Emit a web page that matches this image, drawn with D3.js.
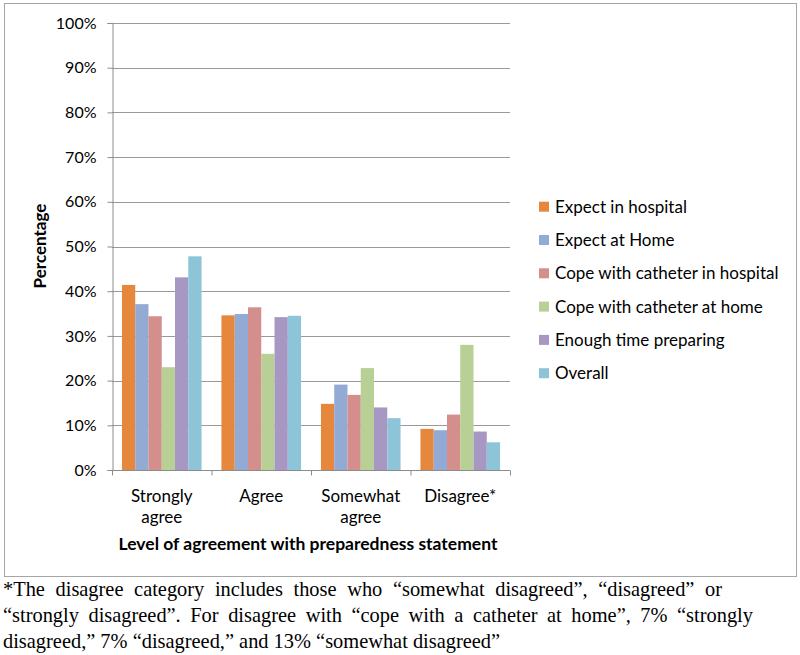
<!DOCTYPE html>
<html><head><meta charset="utf-8">
<script src="https://cdn.jsdelivr.net/npm/d3@7"></script>
<style>body{margin:0;background:#fff}svg{display:block}</style>
</head><body>
<svg id="chart" width="800" height="655"></svg>
<script>
const categories = [["Strongly","agree"],["Agree"],["Somewhat","agree"],["Disagree*"]];
const seriesNames = ["Expect in hospital","Expect at Home","Cope with catheter in hospital","Cope with catheter at home","Enough time preparing","Overall"];
const seriesColors = ["#E5873D","#93AAD5","#D48E8B","#B8CF95","#A798C3","#8EC4D8"];
const expectHospital = [41.4, 34.6, 14.8, 9.2];
const expectHome = [37.1, 34.9, 19.1, 8.9];
const copeHospital = [34.4, 36.4, 16.8, 12.4];
const copeHome = [23.0, 26.0, 22.8, 28.0];
const enoughTime = [43.1, 34.2, 14.0, 8.6];
const overall = [47.8, 34.5, 11.6, 6.2];
const yTicks = [0,10,20,30,40,50,60,70,80,90,100];
const footnote = [
 "*The disagree category includes those who \u201csomewhat disagreed\u201d, \u201cdisagreed\u201d or",
 "\u201cstrongly disagreed\u201d. For disagree with \u201ccope with a catheter at home\u201d, 7% \u201cstrongly",
 "disagreed,\u201d 7% \u201cdisagreed,\u201d and 13% \u201csomewhat disagreed\u201d"
];
const footnoteJustify = [719, 750, 0];
const seriesValues = [expectHospital, expectHome, copeHospital, copeHome, enoughTime, overall];

const svg = d3.select("#chart");
const font = "Lato, 'Open Sans', sans-serif";
const fs = 17;
const L = 112, R = 510, T = 23, B = 470;

svg.append("rect").attr("x",0).attr("y",0).attr("width",800).attr("height",655).attr("fill","#fff");
svg.append("rect").attr("x",4.5).attr("y",3.5).attr("width",792).attr("height",573)
  .attr("fill","none").attr("stroke","#a6a6a6").attr("stroke-width",1);

const catIdx = categories.map((c,i)=>i);
const x = d3.scaleBand().domain(catIdx).range([L,R]).paddingInner(0.2).paddingOuter(0.1);
const xOuter = d3.scaleBand().domain(catIdx).range([L,R]);
const y = d3.scaleLinear().domain([0,100]).range([B,T]);
const xs = d3.scaleBand().domain(d3.range(seriesNames.length)).range([0,x.bandwidth()]);

// gridlines
svg.append("g").selectAll("line").data(yTicks.filter(d=>d>0)).join("line")
  .attr("x1",L).attr("x2",R).attr("y1",d=>Math.round(y(d))+0.5).attr("y2",d=>Math.round(y(d))+0.5)
  .attr("stroke","#9a9a9a").attr("stroke-width",1);

// bars
const groups = svg.append("g").selectAll("g").data(seriesValues).join("g")
  .attr("fill",(d,i)=>seriesColors[i]);
groups.each(function(vals, si){
  d3.select(this).selectAll("rect").data(vals).join("rect")
    .attr("x",(v,ci)=>x(ci)+xs(si))
    .attr("width",xs.bandwidth())
    .attr("y",v=>y(v))
    .attr("height",v=>B-y(v));
});

// y axis
const yAxis = svg.append("g").attr("transform",`translate(${L+0.5},0)`)
  .call(d3.axisLeft(y).tickValues(yTicks).tickFormat(d=>d+"%").tickSize(5).tickPadding(11));
yAxis.select(".domain").attr("stroke","#8c8c8c");
yAxis.selectAll(".tick line").attr("stroke","#8c8c8c");
yAxis.selectAll(".tick text").attr("font-family",font).attr("font-size",16).attr("fill","#000");

// x axis
const xAxis = svg.append("g").attr("transform",`translate(0,${B+0.5})`);
xAxis.append("line").attr("x1",L).attr("x2",R).attr("stroke","#8c8c8c");
xAxis.selectAll("line.tk").data([...catIdx.map(i=>xOuter(i)), R]).join("line").attr("class","tk")
  .attr("x1",d=>d+0.5).attr("x2",d=>d+0.5).attr("y1",0).attr("y2",5).attr("stroke","#8c8c8c");
xAxis.selectAll("text").data(categories).join("text")
  .attr("font-family",font).attr("font-size",fs).attr("text-anchor","middle")
  .attr("x",(d,i)=>xOuter(i)+xOuter.bandwidth()/2)
  .each(function(lines){
    d3.select(this).selectAll("tspan").data(lines).join("tspan")
      .attr("x",d3.select(this).attr("x")).attr("y",(l,j)=>31+j*21.5).text(l=>l);
  });

// axis titles
svg.append("text").attr("font-family",font).attr("font-size",17.5).attr("font-weight","bold")
  .attr("text-anchor","middle").attr("x",(L+R)/2-3).attr("y",550).text("Level of agreement with preparedness statement");
svg.append("text").attr("font-family",font).attr("font-size",fs).attr("font-weight","bold")
  .attr("text-anchor","middle").attr("transform","translate(46,246) rotate(-90)").text("Percentage");

// legend
const leg = svg.append("g").selectAll("g").data(seriesNames).join("g")
  .attr("transform",(d,i)=>`translate(539,${206.7+i*33.3})`);
leg.append("rect").attr("x",0).attr("y",-5).attr("width",10).attr("height",10).attr("fill",(d,i)=>seriesColors[i]);
leg.append("text").attr("x",16).attr("y",6).attr("font-family",font).attr("font-size",fs).text(d=>d);

// footnote (justified lines)
svg.append("g").selectAll("text").data(footnote).join("text")
  .attr("x",3).attr("y",(d,i)=>596+i*25.8)
  .attr("font-family","'Liberation Serif','Times New Roman',serif").attr("font-size",20.4).attr("fill","#000")
  .text(d=>d)
  .each(function(d,i){
    const target = footnoteJustify[i];
    if(!target) return;
    const w = this.getComputedTextLength();
    const spaces = (d.match(/ /g)||[]).length;
    d3.select(this).attr("word-spacing", ((target - w)/spaces).toFixed(2));
  });
</script>
</body></html>
